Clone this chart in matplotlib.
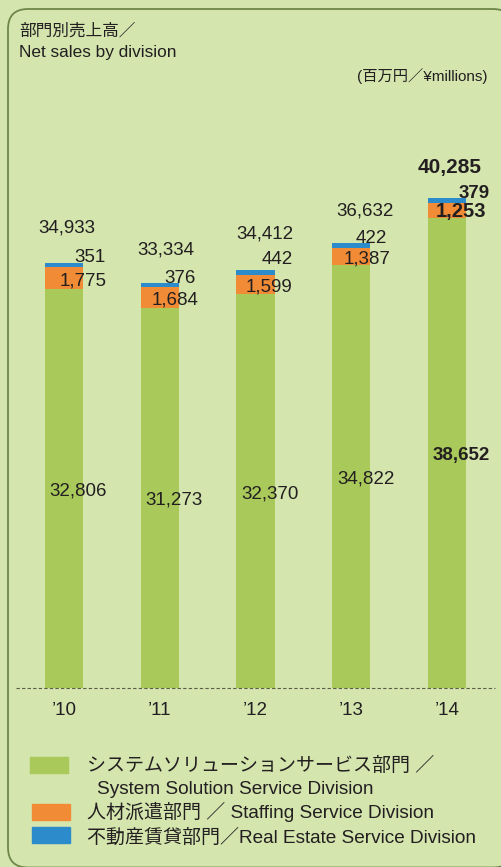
import matplotlib.pyplot as plt
from matplotlib.patches import FancyBboxPatch, Rectangle

plt.rcParams['font.family'] = ['Liberation Sans', 'Noto Sans CJK JP']

# data (million yen)
years = ['\u201910', '\u201911', '\u201912', '\u201913', '\u201914']
system = [32806, 31273, 32370, 34822, 38652]
staffing = [1775, 1684, 1599, 1387, 1253]
realestate = [351, 376, 442, 422, 379]
totals = [34933, 33334, 34412, 36632, 40285]

bg = '#d4e5ae'
c_green = '#a9c95b'
c_orange = '#f28b36'
c_blue = '#2b8bcb'
txt = '#231f20'

W, H = 501, 867
fig = plt.figure(figsize=(W / 100, H / 100), dpi=100, facecolor=bg)


def fx(x):
    return x / W


def fy(y):
    return 1 - y / H


# rounded frame
frame = FancyBboxPatch((0.08, -0.005), 5.05, 8.585,
                       boxstyle='round,pad=0,rounding_size=0.2',
                       transform=fig.dpi_scale_trans, facecolor=bg,
                       edgecolor='#6e8748', linewidth=1.3, zorder=-5)
fig.patches.append(frame)

ax = fig.add_axes([fx(16), fy(688), fx(495) - fx(16), (688 - 130) / H])
ax.set_zorder(2)
ax.set_facecolor('none')
ax.set_xlim(-0.5, 4.5)
ax.set_ylim(0, 558 / 0.01216)
for s in ax.spines.values():
    s.set_visible(False)
ax.set_yticks([])

x = range(len(years))
bot2 = [a for a in system]
bot3 = [a + b for a, b in zip(system, staffing)]
ax.bar(x, system, width=0.4, color=c_green, zorder=2)
ax.bar(x, staffing, width=0.4, bottom=bot2, color=c_orange, zorder=2)
ax.bar(x, realestate, width=0.4, bottom=bot3, color=c_blue, zorder=2)
ax.axhline(0, color='#5a5e48', linewidth=0.8, linestyle=(0, (3, 2)),
           clip_on=False, zorder=3)

ax.set_xticks(list(x), years)
ax.tick_params(axis='x', length=0, pad=10, labelsize=13.5, labelcolor=txt)

# label offsets in pixels
tot_dx = [3, 6, 9.5, 13.5, 3]
tot_dy = [31, 28, 31, 27, 25]
blue_dx = [23, 17, 18, 17, 23]
blue_dy = [1, 0, 6, 0, 0]
orng_dx = [24, 20, 18, 20, 20]

for i in x:
    last = i == len(years) - 1
    fw = 'bold' if last else 'normal'
    fs = 13.5
    right = i + 0.2
    ax.annotate(f'{totals[i]:,}', (i, totals[i]), xytext=(tot_dx[i], tot_dy[i]),
                textcoords='offset pixels', ha='center', va='baseline',
                fontsize=15 if last else fs, fontweight=fw, color=txt)
    ax.annotate(f'{realestate[i]:,}', (right, totals[i]),
                xytext=(blue_dx[i], blue_dy[i]), textcoords='offset pixels',
                ha='right', va='baseline', fontsize=fs, fontweight=fw, color=txt)
    ax.annotate(f'{staffing[i]:,}', (right, system[i] + staffing[i] / 2),
                xytext=(orng_dx[i], -7), textcoords='offset pixels',
                ha='right', va='baseline', fontsize=14.5 if last else fs,
                fontweight=fw, color=txt)
    ax.annotate(f'{system[i]:,}', (i, system[i] / 2), xytext=(14.5, -7),
                textcoords='offset pixels', ha='center', va='baseline',
                fontsize=fs, fontweight=fw, color=txt)

# titles
fig.text(fx(19), fy(35.5), '部門別売上高／', fontsize=12, color=txt, va='baseline')
fig.text(fx(19), fy(57.5), 'Net sales by division', fontsize=12.4, color=txt,
         va='baseline')
fig.text(fx(488), fy(81), '(百万円／¥millions)', fontsize=11, color=txt,
         ha='right', va='baseline')

# legend
leg_boxes = [(30, 757, c_green), (32, 804, c_orange), (32, 827, c_blue)]
for lx, ly, col in leg_boxes:
    fig.patches.append(Rectangle((fx(lx), fy(ly + 16)), 38 / W, 16 / H,
                                 transform=fig.transFigure, color=col))
leg_txt = [(87, 770.5, 'システムソリューションサービス部門 ／'),
           (97, 794, 'System Solution Service Division'),
           (87, 818.3, '人材派遣部門 ／ Staffing Service Division'),
           (87, 843.3, '不動産賃貸部門／Real Estate Service Division')]
for tx, ty, s in leg_txt:
    fig.text(fx(tx), fy(ty), s, fontsize=13.7, color=txt, va='baseline')

fig.savefig('out.png', dpi=100, facecolor=bg)
